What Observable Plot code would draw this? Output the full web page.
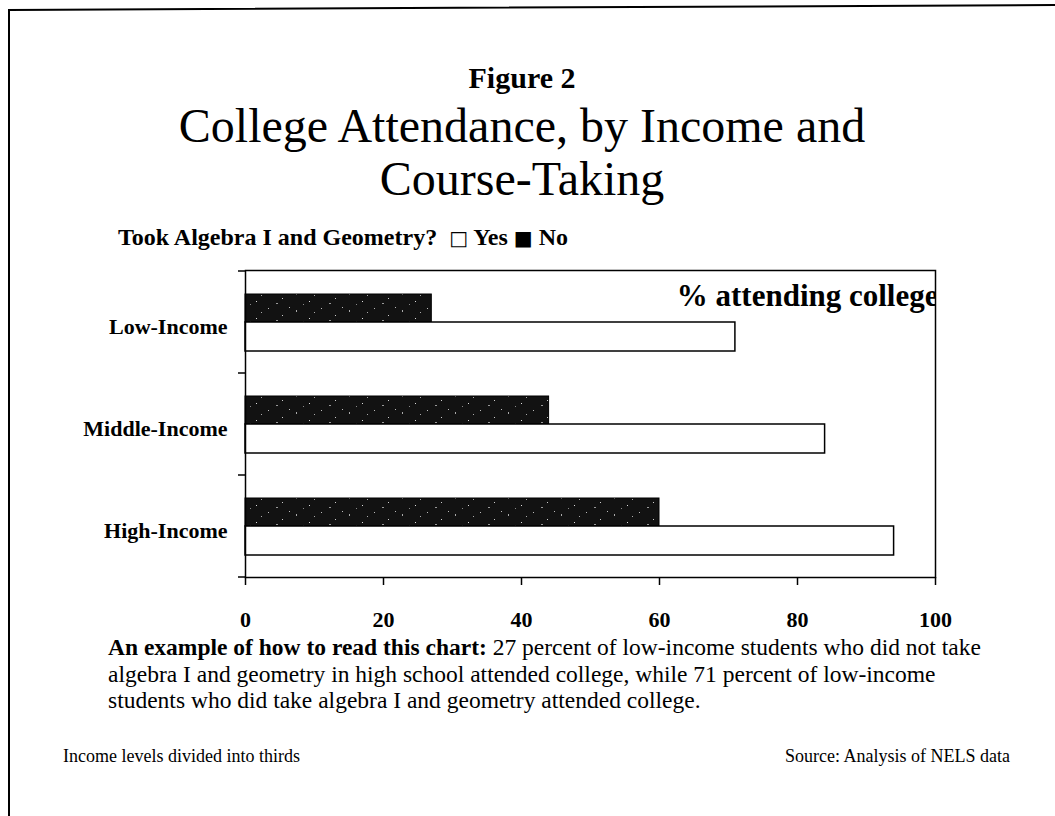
<!DOCTYPE html>
<html>
<head>
<meta charset="utf-8">
<script src="https://cdn.jsdelivr.net/npm/d3@7"></script>
<script src="https://cdn.jsdelivr.net/npm/@observablehq/plot@0.6"></script>
<style>
  html, body { margin: 0; padding: 0; background: white; }
  body { width: 1055px; height: 816px; position: relative; overflow: hidden;
         font-family: "Liberation Serif", "Times New Roman", serif; color: black; }
  .abs { position: absolute; white-space: nowrap; }
  #fig { left: 0; width: 1044px; text-align: center; top: 61px; font-size: 30px; line-height: 34px; font-weight: bold; }
  #title { left: 0; width: 1044px; text-align: center; top: 99px; font-size: 48px; line-height: 53px; }
  #legend { left: 118px; top: 223px; font-size: 24px; line-height: 28px; font-weight: bold; }
  #chart { position: absolute; left: 0; top: 255px; }
  #example { left: 108px; top: 634px; font-size: 23.5px; line-height: 26.5px; }
  #note { left: 63px; top: 746px; font-size: 18px; line-height: 20px; }
  #source { right: 45px; top: 746px; font-size: 18px; line-height: 20px; }
  .sym { font-family: "DejaVu Sans", sans-serif; font-weight: normal; font-size: 20px; }
</style>
</head>
<body>
<svg width="0" height="0" style="position:absolute">
  <defs>
    <pattern id="speckle" width="53" height="17" patternUnits="userSpaceOnUse">
      <rect width="53" height="17" fill="#121212"/>
      <rect x="3" y="2" width="1" height="1" fill="#bbb"/>
      <rect x="17" y="9" width="1" height="1" fill="#ccc"/>
      <rect x="31" y="4" width="1" height="2" fill="#aaa"/>
      <rect x="44" y="12" width="1" height="1" fill="#ddd"/>
      <rect x="11" y="14" width="2" height="1" fill="#999"/>
      <rect x="24" y="1" width="1" height="1" fill="#bbb"/>
      <rect x="49" y="6" width="1" height="1" fill="#aaa"/>
      <rect x="38" y="15" width="1" height="1" fill="#888"/>
    </pattern>
  </defs>
</svg>

<div id="fig" class="abs">Figure 2</div>
<div id="title" class="abs">College Attendance, by Income and<br>Course-Taking</div>
<div id="legend" class="abs">Took Algebra I and Geometry?&nbsp; <span class="sym">□</span> Yes <span class="sym">■</span> No</div>
<div id="chart"></div>
<div id="example" class="abs"><b>An example of how to read this chart:</b> 27 percent of low-income students who did not take<br>algebra I and geometry in high school attended college, while 71 percent of low-income<br>students who did take algebra I and geometry attended college.</div>
<div id="note" class="abs">Income levels divided into thirds</div>
<div id="source" class="abs">Source: Analysis of NELS data</div>

<svg width="1055" height="816" style="position:absolute;left:0;top:0;pointer-events:none">
  <path d="M9,816 V10 L1055,5" fill="none" stroke="black" stroke-width="2"/>
</svg>

<script>
// Data
const incomes = ["Low-Income", "Middle-Income", "High-Income"];
const tookYes = [71, 84, 94];   // took Algebra I and Geometry
const tookNo  = [27, 44, 60];   // did not take
const xTicks  = [0, 20, 40, 60, 80, 100];
const axisTitle = "% attending college";

const noRows  = incomes.map((income, i) => ({income, group: "No",  value: tookNo[i]}));
const yesRows = incomes.map((income, i) => ({income, group: "Yes", value: tookYes[i]}));

const font = "'Liberation Serif', 'Times New Roman', serif";

const chart = Plot.plot({
  width: 1055,
  height: 382,
  marginTop: 15,
  marginLeft: 245,
  marginRight: 120,
  marginBottom: 60,
  style: {fontFamily: font, background: "white", color: "black", overflow: "visible"},
  x: {domain: [0, 100], label: null},
  y: {domain: incomes, padding: 0, label: null},
  marks: [
    Plot.barX(noRows,  {x: "value", y: "income", fill: "url(#speckle)", stroke: "black", strokeWidth: 1, insetTop: 23, insetBottom: 51}),
    Plot.barX(yesRows, {x: "value", y: "income", fill: "white", stroke: "black", strokeWidth: 1.5, insetTop: 51, insetBottom: 22}),
    Plot.text([axisTitle], {frameAnchor: "top-right", textAnchor: "end", lineAnchor: "bottom", dy: 35, dx: 3,
                            fontSize: 31, fontWeight: "bold", fill: "black", clip: true}),
    Plot.frame({stroke: "black", strokeWidth: 1.5}),
    Plot.axisX({ticks: xTicks, tickFormat: d => String(d), tickSize: 8, tickPadding: 26,
                fontSize: 22, fontWeight: "bold", strokeWidth: 1.5, label: null}),
    Plot.axisY({tickSize: 0, tickPadding: 18, fontSize: 22, fontWeight: "bold", dy: 4, label: null})
  ]
});

// category-boundary ticks on the y axis, derived from the band scale
const ys = chart.scale("y");
const xs = chart.scale("x");
const bounds = incomes.map(d => ys.apply(d)).concat([ys.apply(incomes[incomes.length - 1]) + ys.bandwidth]);
const x0 = xs.apply(0);
d3.select(chart).append("g")
  .attr("stroke", "black").attr("stroke-width", 1.5)
  .selectAll("line").data(bounds).join("line")
  .attr("x1", x0 - 7).attr("x2", x0)
  .attr("y1", d => d).attr("y2", d => d);

document.getElementById("chart").appendChild(chart);
</script>
</body>
</html>
